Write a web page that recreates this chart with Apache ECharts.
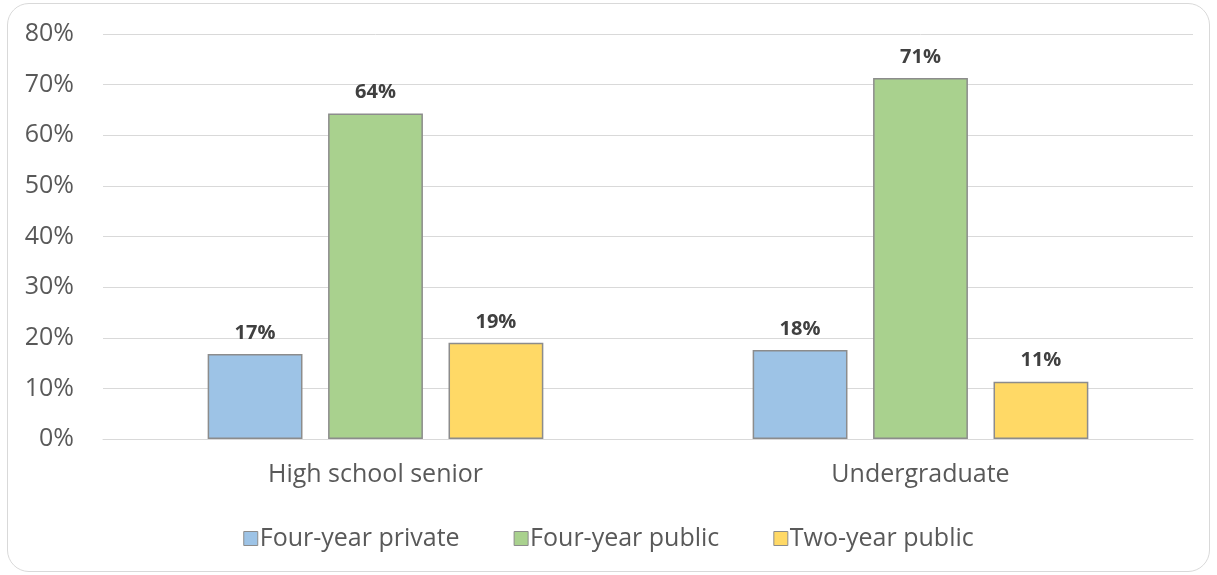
<!DOCTYPE html>
<html>
<head>
<meta charset="utf-8">
<script src="https://cdn.jsdelivr.net/npm/echarts@6/dist/echarts.min.js"></script>
<style>
  html, body { margin: 0; padding: 0; background: #fff; }
  #chart { position: absolute; left: 0; top: 0; width: 1217px; height: 575px; }
  #frame { position: absolute; left: 7px; top: 3px; width: 1201px; height: 567px;
           border: 1px solid #d9d9d9; border-radius: 22px; pointer-events: none; }
</style>
</head>
<body>
<div id="chart"></div>
<div id="frame"></div>
<script>
var categories = ['High school senior', 'Undergraduate'];
var seriesNames = ['Four-year private', 'Four-year public', 'Two-year public'];
var privateFour = [16.8, 17.6];
var publicFour = [64.3, 71.3];
var publicTwo = [19.0, 11.3];
var yTicks = [0, 10, 20, 30, 40, 50, 60, 70, 80];

var colors = ['#9dc3e6', '#a9d18e', '#ffd966'];
var font = '"Open Sans", "Noto Sans", sans-serif';

function makeSeries(name, data, color) {
    return {
        name: name,
        type: 'bar',
        data: data,
        barWidth: '17.4%',
        barGap: '27%',
        itemStyle: { color: color, borderColor: '#8c8c8c', borderWidth: 1.5 },
        label: {
            show: true,
            position: 'top',
            distance: 11,
            fontFamily: font,
            fontSize: 20,
            fontWeight: 'bold',
            color: '#404040',
            formatter: function (p) { return Math.round(p.value) + '%'; }
        }
    };
}

var myChart = echarts.init(document.getElementById('chart'));
var option = {
    animation: false,
    color: colors,
    grid: { left: 103, right: 24, top: 34, bottom: 136, containLabel: false },
    legend: {
        top: 521,
        left: 'center',
        itemWidth: 14,
        itemHeight: 14,
        itemGap: 54,
        icon: 'rect',
        itemStyle: { borderColor: '#8c8c8c', borderWidth: 1 },
        textStyle: { fontFamily: font, fontSize: 25, color: '#595959', padding: [0, 0, 0, -3] },
        data: seriesNames
    },
    xAxis: {
        type: 'category',
        data: categories,
        axisLine: { lineStyle: { color: '#d9d9d9' } },
        axisTick: { show: false },
        axisLabel: { fontFamily: font, fontSize: 25, color: '#595959', margin: 23 }
    },
    yAxis: {
        type: 'value',
        min: yTicks[0],
        max: yTicks[yTicks.length - 1],
        interval: 10,
        axisLine: { show: false },
        axisTick: { show: false },
        splitLine: { lineStyle: { color: '#d9d9d9', width: 1 } },
        axisLabel: { fontFamily: font, fontSize: 25, color: '#595959', margin: 29,
                     formatter: '{value}%' }
    },
    series: [
        makeSeries(seriesNames[0], privateFour, colors[0]),
        makeSeries(seriesNames[1], publicFour, colors[1]),
        makeSeries(seriesNames[2], publicTwo, colors[2])
    ]
};
myChart.setOption(option);
</script>
</body>
</html>
